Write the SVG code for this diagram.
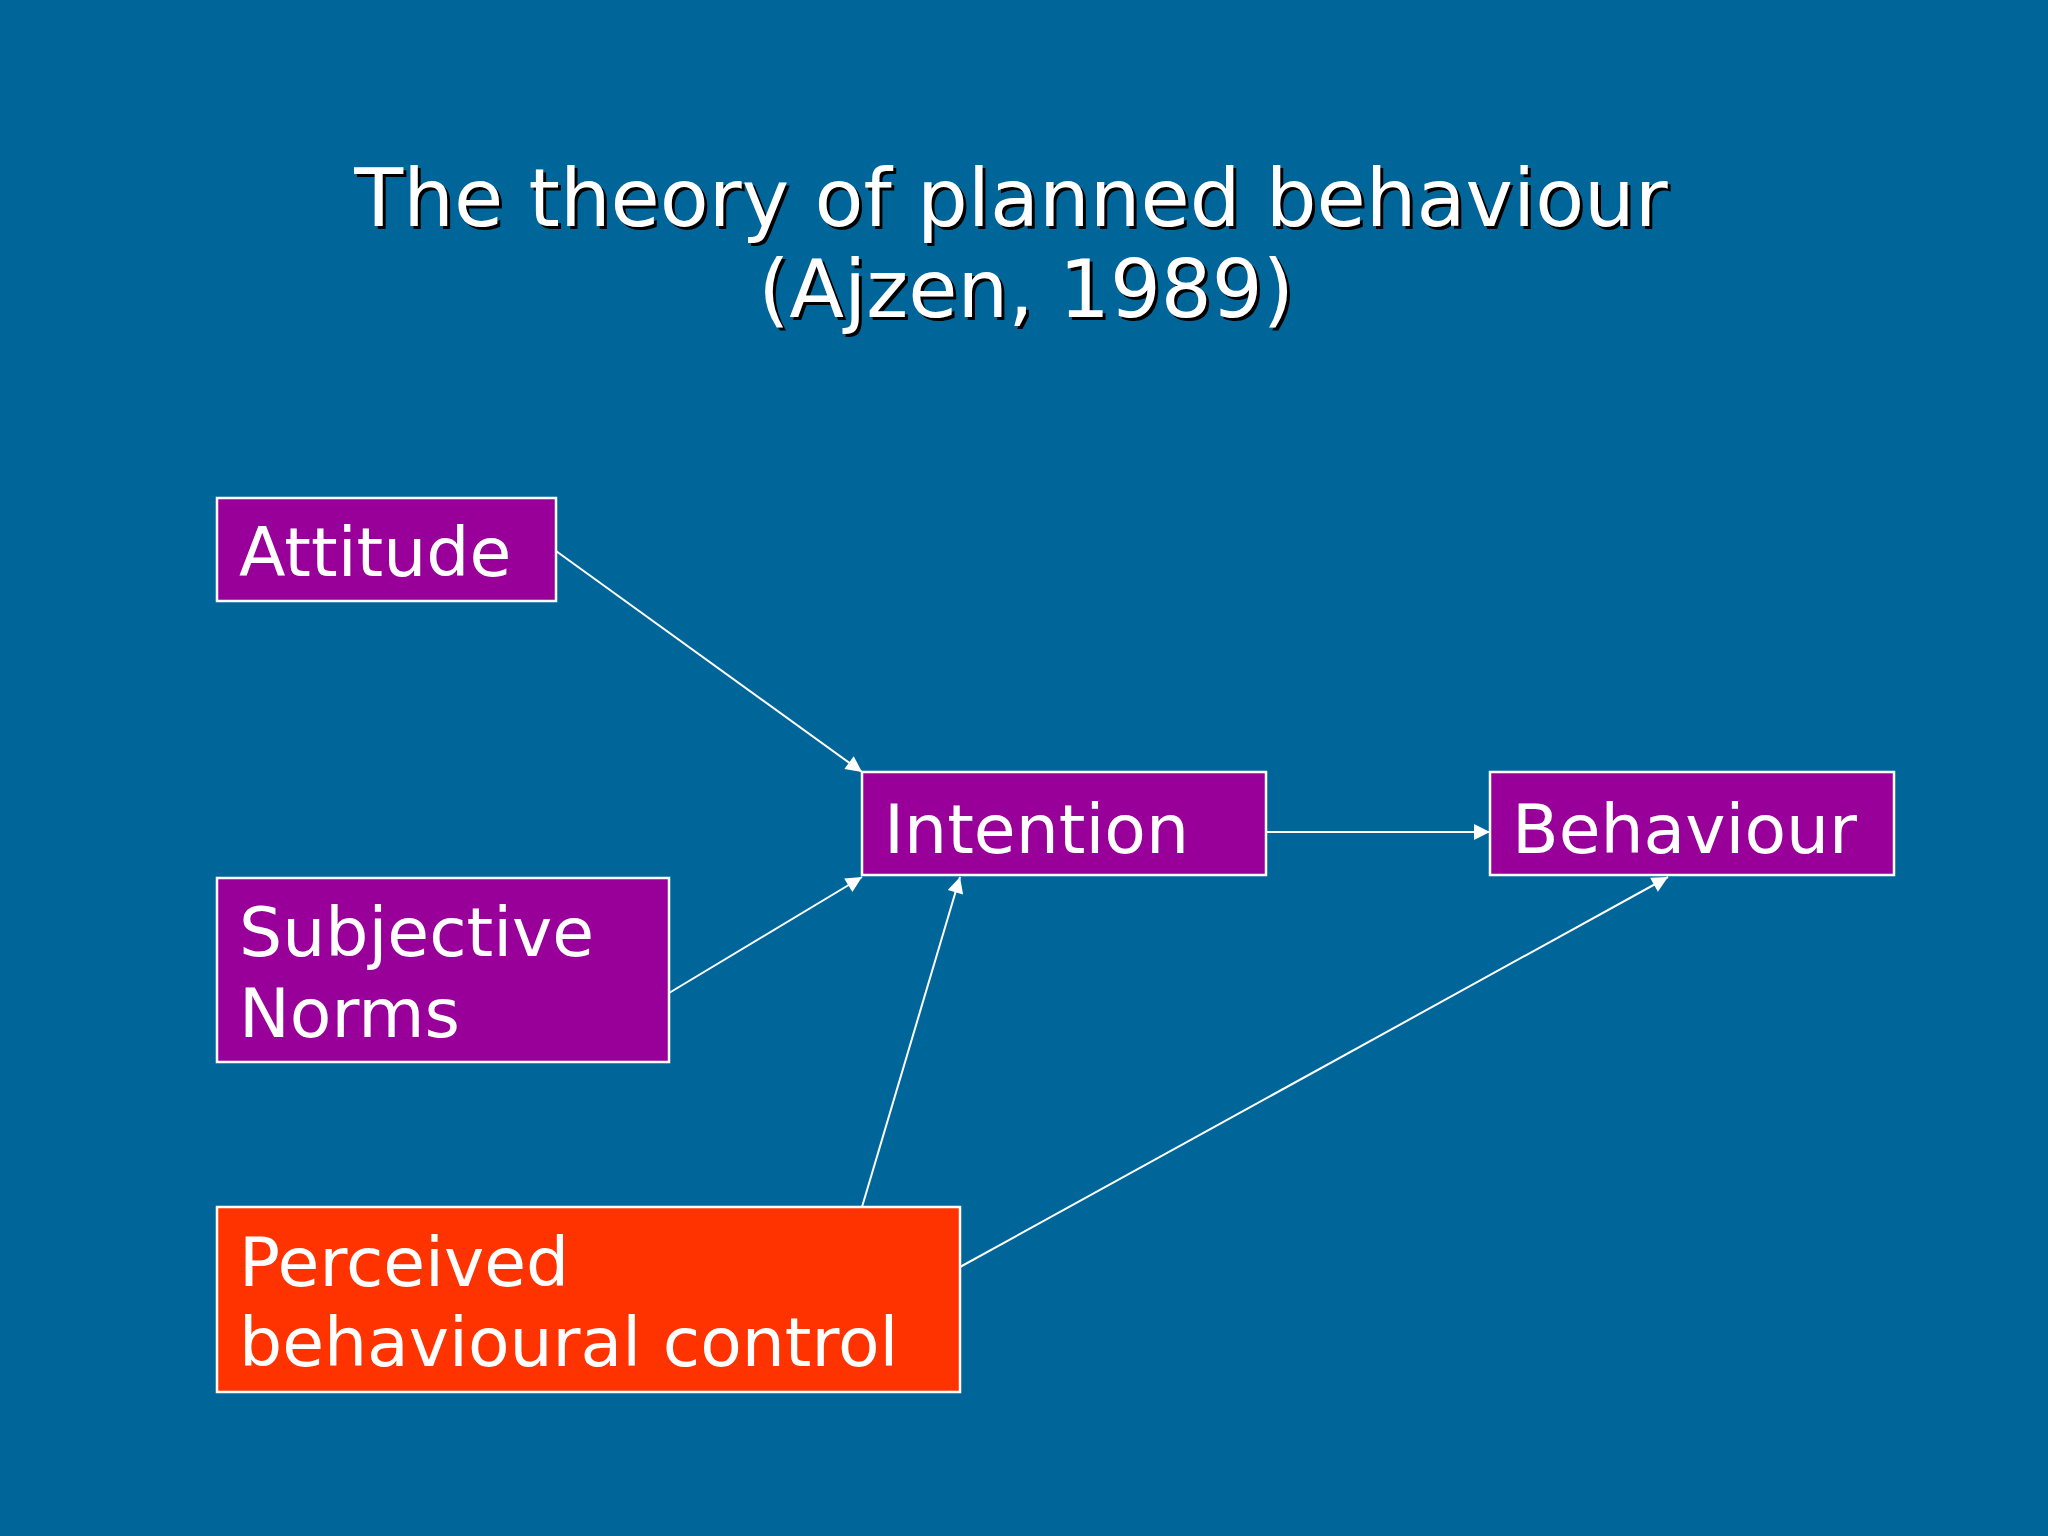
<svg xmlns="http://www.w3.org/2000/svg" width="2048" height="1536" viewBox="0 0 2048 1536">
<style>
.box{stroke:#ffffff;stroke-width:2.5}
.purple{fill:#990099}
.orange{fill:#ff3300}
.lbl{font-family:"DejaVu Sans","Verdana",sans-serif;font-size:68px;fill:#ffffff}
.title{font-family:"DejaVu Sans","Verdana",sans-serif;font-size:80px;text-anchor:middle}
.conn{stroke:#ffffff;stroke-width:2;fill:none;marker-end:url(#ah)}
</style>
<defs>
<marker id="ah" viewBox="0 0 10 10" refX="10" refY="5" markerWidth="8" markerHeight="8" markerUnits="userSpaceOnUse" orient="auto" style="overflow:visible">
<path d="M0,0 L10,5 L0,10 z" fill="#ffffff" transform="scale(2) translate(-5,-2.5)"/>
</marker>
</defs>
<rect width="2048" height="1536" fill="#006699"/>
<g id="title">
<text class="title" fill="#000000" x="1014" y="229">The theory of planned behaviour</text>
<text class="title" fill="#000000" x="1029" y="320" font-size="82">(Ajzen, 1989)</text>
<text class="title" fill="#ffffff" x="1011" y="226">The theory of planned behaviour</text>
<text class="title" fill="#ffffff" x="1026" y="317" font-size="82">(Ajzen, 1989)</text>
</g>
<g id="connectors">
<line class="conn" x1="556" y1="551" x2="862" y2="772"/>
<line class="conn" x1="669" y1="993" x2="862" y2="877"/>
<line class="conn" x1="862" y1="1207" x2="960" y2="877"/>
<line class="conn" x1="1266" y1="832" x2="1490" y2="832"/>
<line class="conn" x1="960" y1="1267" x2="1668" y2="877"/>
</g>
<g id="attitude">
<rect class="box purple" x="217" y="498" width="339" height="103"/>
<text class="lbl" x="239" y="576">Attitude</text>
</g>
<g id="subjective-norms">
<rect class="box purple" x="217" y="878" width="452" height="184"/>
<text class="lbl" x="239" y="956">Subjective</text>
<text class="lbl" x="239" y="1037">Norms</text>
</g>
<g id="perceived-control">
<rect class="box orange" x="217" y="1207" width="743" height="185"/>
<text class="lbl" x="239" y="1286">Perceived</text>
<text class="lbl" x="239" y="1366">behavioural control</text>
</g>
<g id="intention">
<rect class="box purple" x="862" y="772" width="404" height="103"/>
<text class="lbl" x="884" y="853">Intention</text>
</g>
<g id="behaviour">
<rect class="box purple" x="1490" y="772" width="404" height="103"/>
<text class="lbl" x="1512" y="853">Behaviour</text>
</g>
</svg>
